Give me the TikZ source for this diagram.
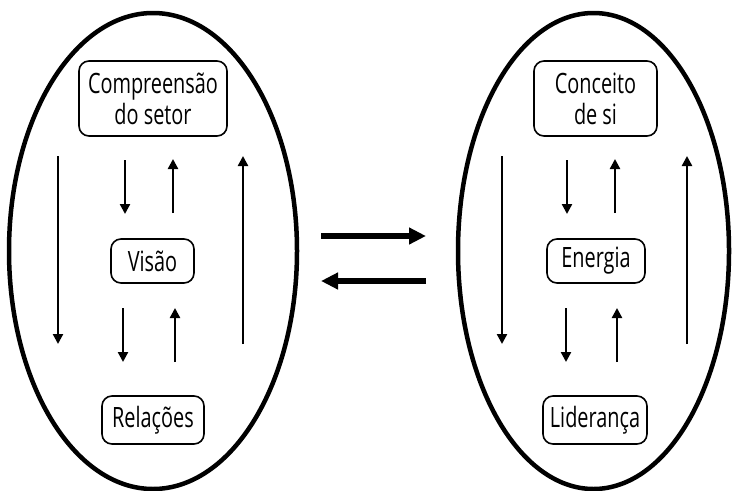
\documentclass[tikz,border=0pt]{standalone}
\usepackage{fontspec}
\setmainfont{Open Sans}[FakeStretch=0.71]
\usetikzlibrary{arrows.meta}
\begin{document}
\begin{tikzpicture}[x=1pt,y=-1pt,
  box/.style={draw,line width=1.6pt,rounded corners=10pt,inner sep=0pt,align=center,
    font=\fontsize{28}{31}\selectfont},
  oval/.style={draw,line width=4.5pt},
  thin/.style={line width=2.3pt,-{Triangle[length=10pt,width=10pt]}},
  thick/.style={line width=5.5pt,-{Triangle[length=17pt,width=16pt]}}]
\useasboundingbox (0,0) rectangle (733,490);
% ellipses
\draw[oval] (153,251) ellipse [x radius=144,y radius=238];
\draw[oval] (593.5,251) ellipse [x radius=135.5,y radius=238];
% left nodes
\node[box,minimum width=148pt,minimum height=75pt] (cs) at (153,98.5) {Compreensão\\do setor};
\node[box,minimum width=83pt,minimum height=44pt] (vi) at (152.5,261) {Visão};
\node[box,minimum width=102pt,minimum height=48pt] (re) at (153,420) {Relações};
% right nodes
\node[box,minimum width=123pt,minimum height=75pt] (co) at (595.5,98.5) {Conceito\\de si};
\node[box,minimum width=98pt,minimum height=44pt] (en) at (596,261) {Energia};
\node[box,minimum width=104pt,minimum height=48pt] (li) at (595,420) {Liderança};
% left arrow coordinates
\coordinate (la1) at (58,156); \coordinate (la2) at (58,344);
\coordinate (lb1) at (125,160); \coordinate (lb2) at (125,214);
\coordinate (lc1) at (173,213); \coordinate (lc2) at (173,159);
\coordinate (ld1) at (123,308); \coordinate (ld2) at (123,362);
\coordinate (le1) at (175,362); \coordinate (le2) at (175,308);
\coordinate (lf1) at (243,344); \coordinate (lf2) at (243,156);
\draw[thin] (la1) -- (la2);
\draw[thin] (lb1) -- (lb2);
\draw[thin] (lc1) -- (lc2);
\draw[thin] (ld1) -- (ld2);
\draw[thin] (le1) -- (le2);
\draw[thin] (lf1) -- (lf2);
% right arrow coordinates
\coordinate (ra1) at (502,156); \coordinate (ra2) at (502,344);
\coordinate (rb1) at (567,160); \coordinate (rb2) at (567,214);
\coordinate (rc1) at (615,213); \coordinate (rc2) at (615,159);
\coordinate (rd1) at (566,308); \coordinate (rd2) at (566,362);
\coordinate (re1) at (617,362); \coordinate (re2) at (617,308);
\coordinate (rf1) at (687,344); \coordinate (rf2) at (687,156);
\draw[thin] (ra1) -- (ra2);
\draw[thin] (rb1) -- (rb2);
\draw[thin] (rc1) -- (rc2);
\draw[thin] (rd1) -- (rd2);
\draw[thin] (re1) -- (re2);
\draw[thin] (rf1) -- (rf2);
% middle arrows
\coordinate (m1) at (321,236); \coordinate (m2) at (426,236);
\coordinate (m3) at (426,281); \coordinate (m4) at (321,281);
\draw[thick] (m1) -- (m2);
\draw[thick] (m3) -- (m4);
\end{tikzpicture}
\end{document}
